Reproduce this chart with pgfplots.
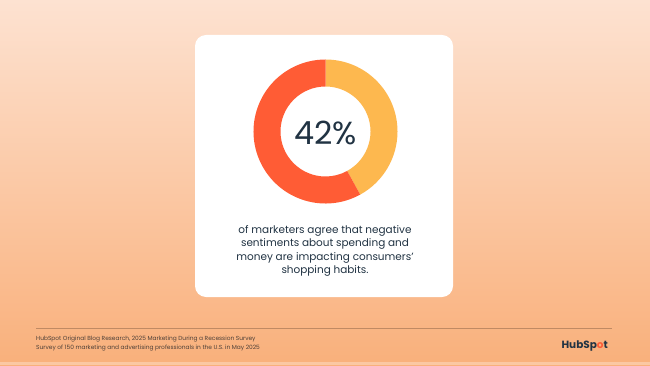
\documentclass[border=0pt]{standalone}
\usepackage{pgfplots}
\usepackage{pgfplotstable}
\pgfplotsset{compat=1.18}
\usepackage{fontspec}
\setmainfont{Poppins}
\definecolor{bgtop}{HTML}{FDE2D1}
\definecolor{bgbot}{HTML}{F9B07B}
\definecolor{hsyellow}{HTML}{FDB84F}
\definecolor{hsorange}{HTML}{FF5C35}
\definecolor{navy}{HTML}{213343}
\definecolor{footline}{HTML}{C08A63}
\definecolor{foottext}{HTML}{4E4038}

\pgfplotstableread{
label value
agree 42
other 58
}\donutdata

\begin{document}
\begin{tikzpicture}
\pgfplotstablegetelem{0}{value}\of\donutdata
\xdef\agreeval{\pgfplotsretval}
\pgfmathsetmacro{\ea}{90-3.6*\agreeval}
\xdef\ea{\ea}
\begin{axis}[width=650bp,height=365bp,scale only axis,
  xmin=0,xmax=650,ymin=0,ymax=365,hide axis,clip=false]
  % background
  \shade[top color=bgtop,bottom color=bgbot] (axis cs:0,0) rectangle (axis cs:650,365);
  \fill[color=bgbot!70!white] (axis cs:0,0) rectangle (axis cs:650,3);
  % card
  \fill[white,rounded corners=11bp] (axis cs:195,68) rectangle (axis cs:453,330);
  % donut
  \begin{scope}[shift={(axis cs:325.5,233.5)}]
    \fill[hsyellow] (90:72bp) arc[start angle=90,end angle=\ea,radius=72bp]
      -- (\ea:45bp) arc[start angle=\ea,end angle=90,radius=45bp] -- cycle;
    \fill[hsorange] (\ea:72bp) arc[start angle=\ea,end angle=-270,radius=72bp]
      -- (-270:45bp) arc[start angle=-270,end angle=\ea,radius=45bp] -- cycle;
  \end{scope}
  \node[text=navy,font=\fontsize{32}{36}\selectfont] at (axis cs:325.5,232) {\agreeval\%};
  \node[text=navy,align=center,font=\fontsize{10.5}{13.6}\selectfont,anchor=center] at (axis cs:325,114)
    {of marketers agree that negative\\sentiments about spending and\\money are impacting consumers'\\shopping habits.};
  % footer
  \draw[footline,line width=0.8bp] (axis cs:36,37) -- (axis cs:612,37);
  \node[text=foottext,align=left,anchor=north west,font=\fontsize{5.9}{9}\selectfont,inner sep=0pt] at (axis cs:36,29)
    {HubSpot Original Blog Research, 2025 Marketing During a Recession Survey\\Survey of 150 marketing and advertising professionals in the U.S. in May 2025};
  \node[text=navy,anchor=east,font=\fontsize{10.5}{12}\selectfont\bfseries,inner sep=0pt] at (axis cs:608,19)
    {HubSp\textcolor{hsorange}{o}t};
\end{axis}
\end{tikzpicture}
\end{document}
